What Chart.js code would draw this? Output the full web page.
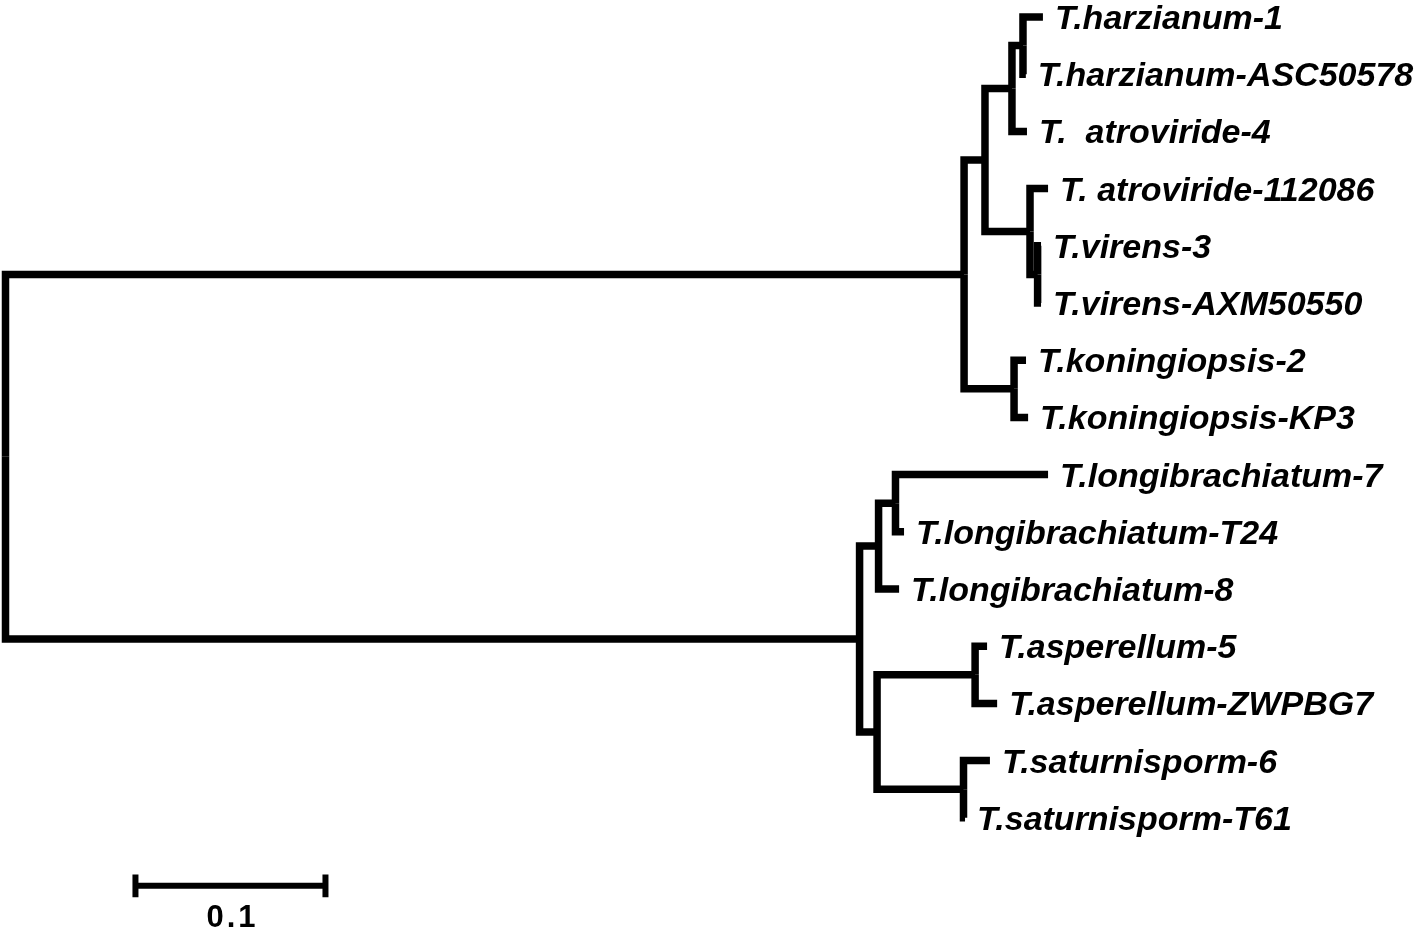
<!DOCTYPE html>
<html>
<head>
<meta charset="utf-8">
<script src="https://cdn.jsdelivr.net/npm/chart.js@4"></script>
<style>
  html, body { margin: 0; padding: 0; background: #fff; }
  canvas { display: block; }
</style>
</head>
<body>
<canvas id="treeChart" width="1418" height="931"></canvas>
<script>
// Leaves, top to bottom, with their terminal branch lengths
const taxa = [
    'T.harzianum-1', 'T.harzianum-ASC50578', 'T.  atroviride-4', 'T. atroviride-112086',
    'T.virens-3', 'T.virens-AXM50550', 'T.koningiopsis-2', 'T.koningiopsis-KP3',
    'T.longibrachiatum-7', 'T.longibrachiatum-T24', 'T.longibrachiatum-8',
    'T.asperellum-5', 'T.asperellum-ZWPBG7', 'T.saturnisporm-6', 'T.saturnisporm-T61'
]
const taxaLength = [0.0105, 0.0015, 0.0079, 0.0095, 0.0018, 0.0018, 0.0063, 0.0074,
    0.0803, 0.0045, 0.0108, 0.0063, 0.0116, 0.0139, 0.0008]

// Internal nodes: children are leaf indexes (numbers) or node names (strings)
const nodeNames = ['root', 'A', 'B', 'C', 'E', 'D', 'F', 'G', 'H', 'I', 'K', 'J', 'L', 'M']
const nodeChildren = [['A', 'H'], ['B', 'G'], ['C', 'D'], ['E', 2], [0, 1], [3, 'F'], [4, 5],
    [6, 7], ['I', 'J'], ['K', 10], [8, 9], ['L', 'M'], [11, 12], [13, 14]]
const nodeLength = [0, 0.5045, 0.011, 0.0142, 0.0058, 0.0237, 0.004, 0.0263,
    0.4495, 0.01, 0.0089, 0.0092, 0.0516, 0.0455]

// Scale bar
const scaleBarLength = 0.1
const scaleBarLabel = '0.1'
const scaleBarStart = 0.0684
const scaleBarRow = 15.19

// Walk the tree to get x (distance from root) and y (row) of every node
const segments = []
function place(child, parentX) {
    if (typeof child === 'number') {
        return { x: parentX + taxaLength[child], y: child }
    }
    const i = nodeNames.indexOf(child)
    const x = parentX + nodeLength[i]
    const kids = nodeChildren[i].map(c => place(c, x))
    const y = kids.reduce((s, k) => s + k.y, 0) / kids.length
    kids.forEach(k => {
        segments.push([{ x: x, y: y }, { x: x, y: k.y }, { x: k.x, y: k.y }])
    })
    return { x: x, y: y }
}
place('root', 0)

// Tip positions for the labels
const tips = taxa.map((name, i) => {
    let x = taxaLength[i]
    let cur = i
    let found = true
    while (found) {
        found = false
        nodeChildren.forEach((kids, n) => {
            if (kids.includes(cur)) {
                x += nodeLength[n]
                cur = nodeNames[n]
                found = true
            }
        })
    }
    return { x: x, y: i }
})

const lineStyle = {
    showLine: true,
    borderColor: '#000',
    borderWidth: 7.5,
    borderJoinStyle: 'miter',
    borderCapStyle: 'butt',
    pointRadius: 0,
    fill: false
}

const datasets = segments.map(seg => ({ ...lineStyle, data: seg }))

// Scale bar as three segments
const barY = scaleBarRow
const barEnd = scaleBarStart + scaleBarLength
const barStyle = { ...lineStyle, borderWidth: 6 }
datasets.push({ ...barStyle, data: [{ x: scaleBarStart, y: barY }, { x: barEnd, y: barY }] })
datasets.push({ ...barStyle, data: [{ x: scaleBarStart, y: barY - 0.2 }, { x: scaleBarStart, y: barY + 0.2 }] })
datasets.push({ ...barStyle, data: [{ x: barEnd, y: barY - 0.2 }, { x: barEnd, y: barY + 0.2 }] })

const labelPlugin = {
    id: 'tipLabels',
    afterDatasetsDraw(chart) {
        const { ctx, scales: { x, y } } = chart
        ctx.save()
        ctx.fillStyle = '#000'
        ctx.textBaseline = 'alphabetic'
        ctx.font = 'italic bold 34px "Liberation Sans", Arial, sans-serif'
        tips.forEach((t, i) => {
            ctx.textAlign = 'left'
            ctx.fillText(taxa[i], x.getPixelForValue(t.x) + 12, y.getPixelForValue(t.y) + 12)
        })
        // scale bar label
        ctx.font = 'bold 31px "Liberation Sans", Arial, sans-serif'
        ctx.letterSpacing = '3px'
        ctx.textAlign = 'center'
        ctx.fillText(scaleBarLabel, x.getPixelForValue(scaleBarStart + scaleBarLength / 2) + 2,
            y.getPixelForValue(scaleBarRow) + 41)
        ctx.restore()
    }
}

const ctx = document.getElementById('treeChart').getContext('2d')
const treeChart = new Chart(ctx, {
    type: 'scatter',
    data: { datasets: datasets },
    options: {
        responsive: false,
        animation: false,
        events: [],
        layout: { padding: 0 },
        plugins: { legend: { display: false }, tooltip: { enabled: false } },
        scales: {
            x: { type: 'linear', display: false, min: -0.002895, max: 0.7434 },
            y: { type: 'linear', display: false, reverse: true, min: -0.2972, max: 15.979 }
        }
    },
    plugins: [labelPlugin]
})
</script>
</body>
</html>
